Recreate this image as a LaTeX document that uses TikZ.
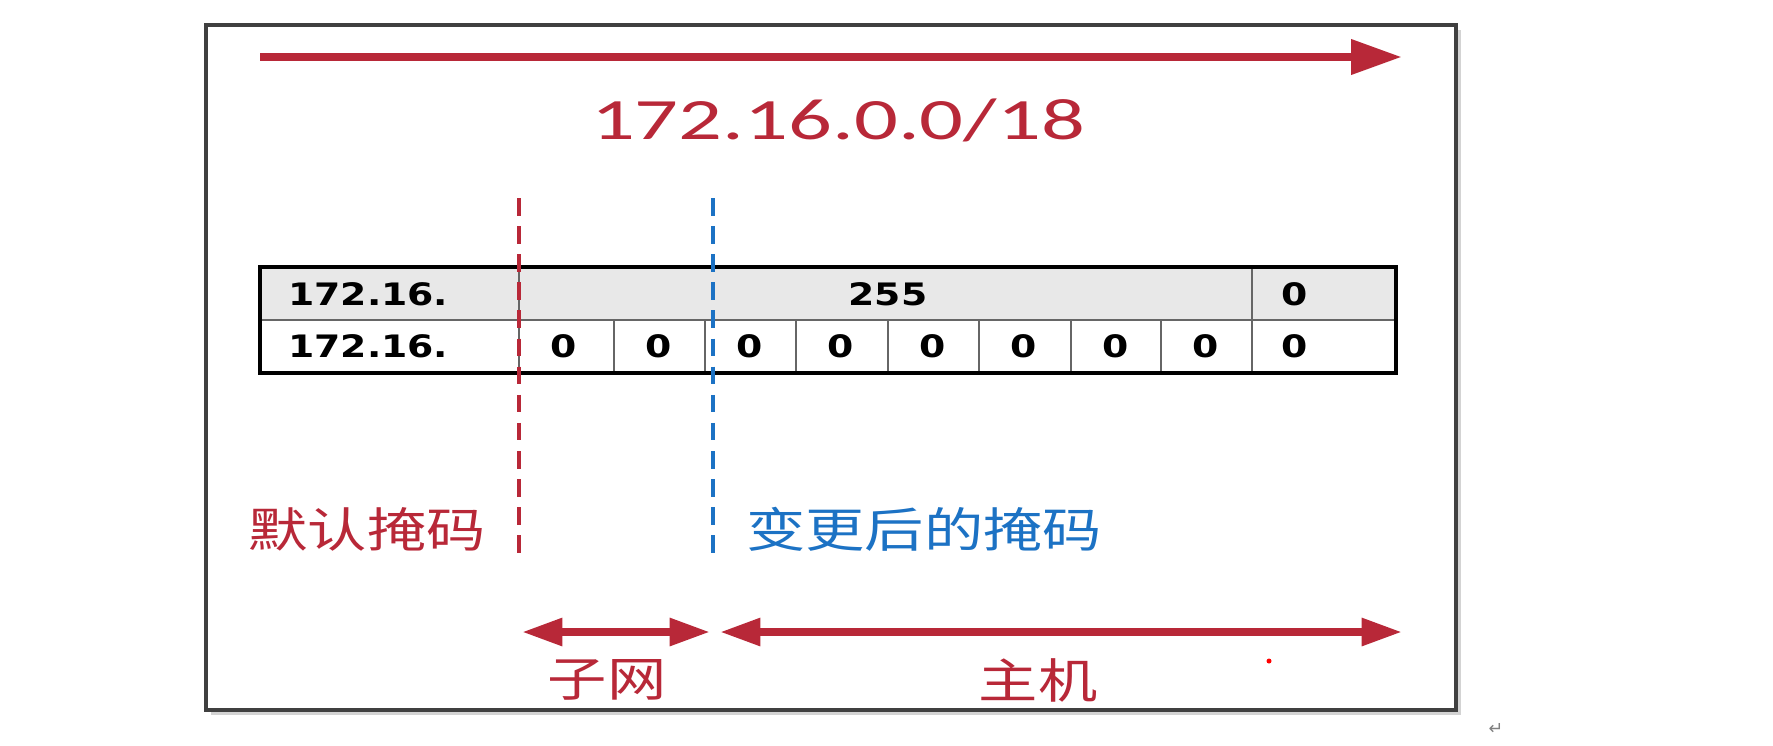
\documentclass[tikz,border=0pt]{standalone}
\usepackage{fontspec}
\setmainfont{Carlito}
\newfontfamily\titlefont[FakeStretch=1.48]{Carlito}
\newfontfamily\cjkfont[FakeStretch=1.25]{Noto Sans CJK SC}
\newfontfamily\cellfont[FakeStretch=1.22]{DejaVu Sans}
\newfontfamily\symfont{DejaVu Sans}
\usetikzlibrary{arrows.meta, shadows}
\definecolor{maskred}{RGB}{184,40,56}
\definecolor{maskblue}{RGB}{28,114,196}
\definecolor{framegray}{RGB}{64,64,64}
\definecolor{rowgray}{RGB}{232,232,232}

\begin{document}
\begin{tikzpicture}[
    x=0.02cm, y=-0.02cm,
    every node/.style={inner sep=0pt},
    band/.style={maskred, line width=5pt, -{Triangle[length=29pt, width=19pt]}},
    span/.style={maskred, line width=4.5pt,
        {Triangle[length=23pt, width=15pt]}-{Triangle[length=23pt, width=15pt]}},
    maskline/.style={line width=2.6pt, dash pattern=on 10pt off 6pt},
    celltext/.style={font=\cellfont\bfseries\fontsize{17.6}{20}\selectfont},
    cjklabel/.style={font=\cjkfont\fontsize{27}{30}\selectfont},
]
\useasboundingbox (0,0) rectangle (1773,745);
% outer frame
\draw[framegray, line width=1.9pt, fill=white,
      drop shadow={shadow xshift=3pt, shadow yshift=-3pt, opacity=0.35}]
      (206,25) rectangle (1456,710);
% whole address, top
\coordinate (bandL) at (260,57);
\coordinate (bandR) at (1402,57);
\draw[band] (bandL) -- (bandR);
\node[text=maskred, font=\titlefont\fontsize{33.3}{40}\selectfont, anchor=base] (prefix) at (838,139) {172.16.0.0/18};
% the two rows
\fill[rowgray] (260,267) rectangle (1396,320);
\draw[gray!80!black, line width=0.8pt] (260,320) -- (1396,320);
\draw[gray!80!black, line width=0.8pt] (519,267) -- (519,373);
\draw[gray!80!black, line width=0.8pt] (1252,267) -- (1252,373);
\foreach \xc in {614,705,796,888,979,1071,1161}
    \draw[gray!80!black, line width=0.8pt] (\xc,320) -- (\xc,373);
\draw[black, line width=1.8pt] (260,267) rectangle (1396,373);
\node[celltext, anchor=base west] (netmask) at (288,305) {172.16.};
\node[celltext, anchor=base] (ones) at (888,305) {255};
\node[celltext, anchor=base west] (lastmask) at (1281,305) {0};
\node[celltext, anchor=base west] (netaddr) at (288,357) {172.16.};
\foreach \xc [count=\i] in {519,614,705,796,888,979,1071,1161}
    \node[celltext, anchor=base west] (bit\i) at (\xc+31,357) {0};
\node[celltext, anchor=base west] (lastaddr) at (1281,357) {0};
% mask boundaries
\coordinate (oldtop) at (519,198);
\coordinate (oldbot) at (519,562);
\coordinate (newtop) at (713,198);
\coordinate (newbot) at (713,562);
\draw[maskline, maskred] (oldtop) -- (oldbot);
\draw[maskline, maskblue] (newtop) -- (newbot);
\node[cjklabel, text=maskred, anchor=east] (oldmask) at (486,529) {默认掩码};
\node[cjklabel, text=maskblue, anchor=west] (newmask) at (746,529) {变更后的掩码};
% subnet and host parts
\coordinate (subL) at (522,632);
\coordinate (subR) at (710,632);
\coordinate (hostL) at (720,632);
\coordinate (hostR) at (1402,632);
\draw[span] (subL) -- (subR);
\draw[span] (hostL) -- (hostR);
\node[cjklabel, text=maskred] (subnet) at (607,680) {子网};
\node[cjklabel, text=maskred] (host) at (1038,680) {主机};
\fill[red] (1269,661) circle (2.5);
\node[text=gray, font=\symfont\fontsize{10}{12}\selectfont] (parmark) at (1496,729) {↵};
\end{tikzpicture}
\end{document}
